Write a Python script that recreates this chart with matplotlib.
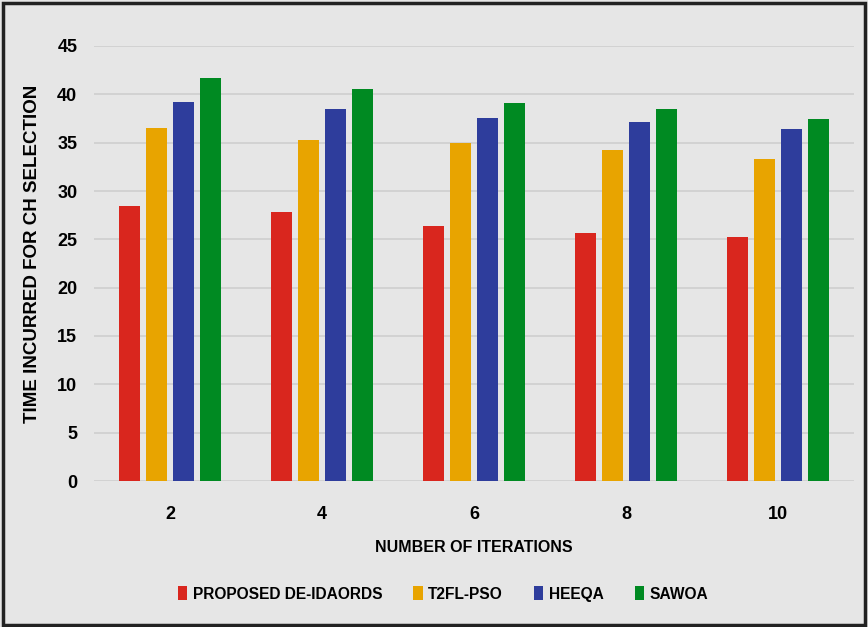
import numpy as np
import matplotlib
matplotlib.use("Agg")
import matplotlib.pyplot as plt
from matplotlib.patches import Rectangle

iterations = ["2", "4", "6", "8", "10"]
proposed = [28.4, 27.8, 26.4, 25.7, 25.2]
t2fl_pso = [36.5, 35.3, 35.0, 34.2, 33.3]
heeqa = [39.2, 38.5, 37.5, 37.1, 36.4]
sawoa = [41.7, 40.6, 39.1, 38.5, 37.4]

series = [
    ("PROPOSED DE-IDAORDS", proposed, "#d9261e"),
    ("T2FL-PSO", t2fl_pso, "#e8a400"),
    ("HEEQA", heeqa, "#2e3d9c"),
    ("SAWOA", sawoa, "#008a22"),
]

plt.rcParams['font.family'] = ['Liberation Sans', 'DejaVu Sans']
plt.rcParams['font.weight'] = 'bold'

bg = "#e6e6e6"
fig = plt.figure(figsize=(8.68, 6.27), dpi=100, facecolor=bg)
ax = fig.add_axes([94 / 868, 1 - 481 / 627, 760 / 868, 435 / 627])
ax.set_facecolor(bg)

x = np.arange(len(iterations))
step = 0.178
width = 0.14
for i, (name, vals, color) in enumerate(series):
    ax.bar(x + (i - 1.5) * step, vals, width, color=color, label=name, zorder=3)

ax.set_xlim(-0.5, len(iterations) - 0.5)
ax.set_ylim(0, 45)
ax.set_yticks(range(0, 50, 5))
ax.set_xticks(x)
ax.set_xticklabels(iterations)
ax.grid(axis='y', color='#cfcfcf', linewidth=1.2, zorder=0)
for s in ax.spines.values():
    s.set_visible(False)
ax.tick_params(length=0, labelsize=13, colors='black')
ax.tick_params(axis='y', pad=12)
ax.tick_params(axis='x', pad=18)
for lbl in ax.get_xticklabels() + ax.get_yticklabels():
    lbl.set_fontweight('bold')

fig.text(33 / 868, 1 - 254 / 627, "TIME INCURRED FOR CH SELECTION", rotation=90,
         ha='center', va='center', fontsize=13.5, fontweight='bold')
fig.text(474 / 868, 1 - 548 / 627, "NUMBER OF ITERATIONS",
         ha='center', va='center', fontsize=11.5, fontweight='bold')

leg = fig.legend(loc='center', bbox_to_anchor=(443 / 868, 1 - 594 / 627), ncol=4,
                 frameon=False, fontsize=11.2, handlelength=0.6, handleheight=1.0,
                 handletextpad=0.35, columnspacing=2.0)
for t in leg.get_texts():
    t.set_fontweight('bold')

# outer frame
fig.patches.append(Rectangle((0.004, 0.003), 0.992, 0.992, transform=fig.transFigure,
                             fill=False, edgecolor='#222222', linewidth=2.5))

fig.savefig("out.png", dpi=100, facecolor=bg)
